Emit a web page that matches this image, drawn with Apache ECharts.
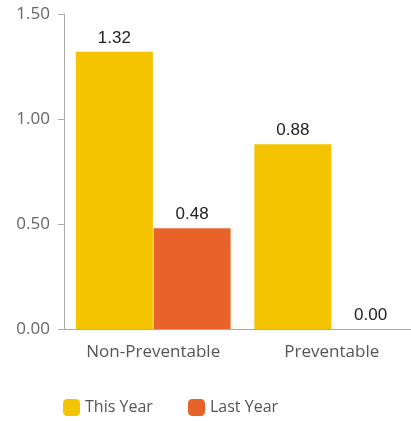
<!DOCTYPE html>
<html><head><meta charset="utf-8">
<script src="https://cdn.jsdelivr.net/npm/echarts@6/dist/echarts.min.js"></script>
<style>html,body{margin:0;padding:0;background:#fff}#c{width:411px;height:421px}</style>
</head><body><div id="c"></div>
<script>
const categories = ['Non-Preventable', 'Preventable'];
const thisYear = [1.32, 0.88];
const lastYear = [0.48, 0.00];
const yTicks = [0, 0.5, 1.0, 1.5];
const seriesNames = ['This Year', 'Last Year'];

const chart = echarts.init(document.getElementById('c'), null, {renderer: 'canvas'});
const labelStyle = {show: true, position: 'top', color: '#222', fontFamily: 'Liberation Sans, Arial', fontSize: 17, distance: 5,
  formatter: p => p.value.toFixed(2)};
const legendBase = {top: 399, padding: 0, itemWidth: 17, itemHeight: 17, icon: 'roundRect',
  textStyle: {color: '#555', fontFamily: 'Open Sans', fontSize: 16}};
chart.setOption({
  animation: false,
  grid: {left: 64, top: 14, width: 357, height: 315, containLabel: false, outerBoundsMode: 'none'},
  legend: [
    Object.assign({left: 63, data: [seriesNames[0]]}, legendBase),
    Object.assign({left: 188, data: [seriesNames[1]]}, legendBase)
  ],
  xAxis: {
    type: 'category', data: categories,
    axisLine: {lineStyle: {color: '#aaa'}}, axisTick: {show: false},
    axisLabel: {color: '#555', fontFamily: 'Open Sans', fontSize: 17, margin: 15}
  },
  yAxis: {
    type: 'value', min: yTicks[0], max: yTicks[yTicks.length - 1], interval: 0.5,
    axisLine: {show: true, lineStyle: {color: '#aaa'}},
    axisTick: {show: true, length: 6, lineStyle: {color: '#aaa'}},
    splitLine: {show: false},
    axisLabel: {color: '#666', fontFamily: 'Open Sans', fontSize: 17, margin: 14,
      formatter: v => v.toFixed(2)}
  },
  series: [
    {name: seriesNames[0], type: 'bar', data: thisYear, barWidth: 77, barGap: '1%',
     itemStyle: {color: '#F5C400'}, label: labelStyle},
    {name: seriesNames[1], type: 'bar', data: lastYear, barWidth: 77, barGap: '1%',
     itemStyle: {color: '#E8632A'}, label: labelStyle}
  ]
});
</script></body></html>
